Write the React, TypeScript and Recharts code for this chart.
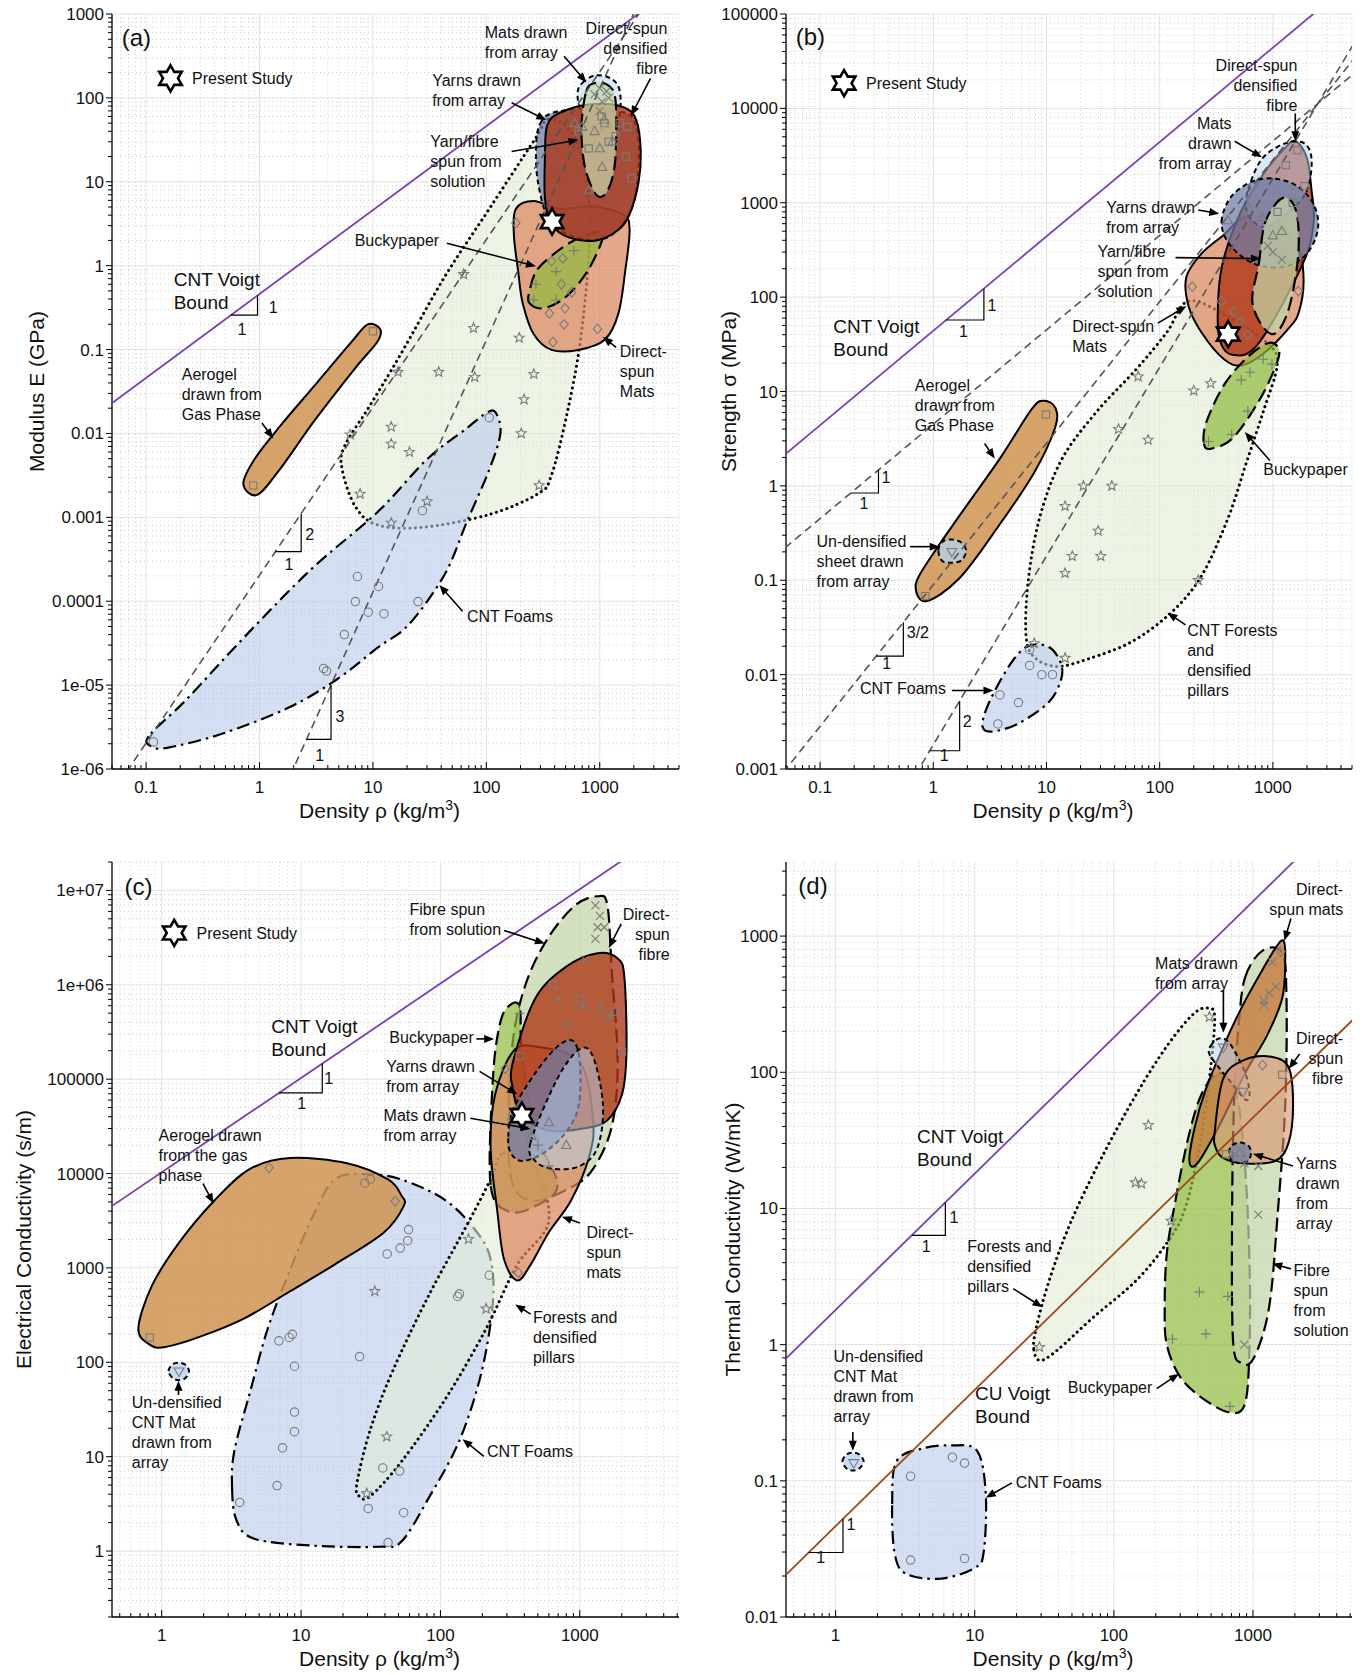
import React from "react";
import { ScatterChart, Scatter, XAxis, YAxis, CartesianGrid } from "recharts";

const FONT = "'Liberation Sans', Arial, Helvetica, sans-serif";
type T = [number, number];

// ---------- axis ticks ----------
const xMajorAB = [0.1, 1, 10, 100, 1000];
const xLabelsAB = ["0.1", "1", "10", "100", "1000"];
const xMajorCD = [1, 10, 100, 1000];
const xLabelsCD = ["1", "10", "100", "1000"];
const yMajorA = [1e-6, 1e-5, 1e-4, 1e-3, 0.01, 0.1, 1, 10, 100, 1000];
const yLabelsA = ["1e-06", "1e-05", "0.0001", "0.001", "0.01", "0.1", "1", "10", "100", "1000"];
const yMajorB = [0.001, 0.01, 0.1, 1, 10, 100, 1000, 1e4, 1e5];
const yLabelsB = ["0.001", "0.01", "0.1", "1", "10", "100", "1000", "10000", "100000"];
const yMajorC = [1, 10, 100, 1000, 1e4, 1e5, 1e6, 1e7];
const yLabelsC = ["1", "10", "100", "1000", "10000", "100000", "1e+06", "1e+07"];
const yMajorD = [0.01, 0.1, 1, 10, 100, 1000];
const yLabelsD = ["0.01", "0.1", "1", "10", "100", "1000"];

// ---------- panel (a): modulus ----------
const aForest: T[] = [[360, 56], [592, 35], [776, 9.7], [812, 1.75], [678, 0.132], [517, 0.0177], [376, 3.2e-3], [287, 1.92e-3], [106, 1.08e-3], [27.3, 7.6e-4], [11, 8.1e-4], [7, 1.34e-3], [5.36, 3.7e-3], [5.6, 7e-3], [9.2, 0.0205], [17.4, 0.086], [43, 0.74], [106, 4.75], [262, 30.7]];
const aFoam: T[] = [[0.105, 2.45e-6], [0.114, 1.84e-6], [0.157, 1.8e-6], [0.466, 2.63e-6], [1.81, 5.4e-6], [4.9, 1.19e-5], [11, 2.8e-5], [20.8, 5.3e-5], [43, 2.1e-4], [67, 8.7e-4], [106, 3.7e-3], [133, 0.01], [121, 0.0177], [101, 0.0177], [67, 0.0115], [29.9, 4.9e-3], [11, 1.16e-3], [2.85, 2.4e-4], [0.73, 3.7e-5], [0.226, 6.7e-6]];
const aAerogel: T[] = [[0.72, 2.5e-3], [0.95, 1.85e-3], [1.48, 3.6e-3], [3.06, 0.0143], [6.9, 0.059], [10.9, 0.123], [11.6, 0.175], [9.0, 0.2], [6.5, 0.124], [3.15, 0.039], [1.53, 0.0124], [0.9, 4.9e-3]];
const aDsMats: T[] = [[182, 4.75], [262, 5.9], [451, 4.75], [849, 5.1], [1600, 4.1], [1833, 2.68], [1675, 0.85], [1462, 0.27], [1114, 0.132], [648, 0.099], [376, 0.099], [262, 0.152], [209, 0.36], [191, 0.85], [175, 2.32]];
const aBucky: T[] = [[239, 0.36], [314, 0.31], [494, 0.416], [776, 0.85], [1066, 2.16], [931, 2.5], [592, 2.0], [376, 1.31], [274, 0.85], [239, 0.48]];
const aYarns: T[] = [[300, 50], [380, 66], [700, 74], [1300, 70], [1900, 60], [2200, 30], [2100, 8], [1700, 3.5], [1100, 2.1], [600, 2.2], [360, 3.5], [285, 10], [275, 28]];
const aMats: T[] = [[700, 150], [900, 185], [1200, 175], [1450, 140], [1530, 90], [1450, 55], [1100, 42], [800, 50], [660, 80], [640, 120]];
const aDsFibre: T[] = [[344, 47], [451, 67], [849, 84], [1600, 78], [2100, 54.5], [2300, 23], [2196, 9.7], [1833, 4.1], [1462, 2.68], [931, 2.0], [540, 2.16], [376, 3.1], [329, 6.3], [329, 20]];
const aSpun: T[] = [[760, 120], [900, 150], [1150, 145], [1350, 110], [1400, 50], [1350, 15], [1150, 7.5], [930, 7], [740, 15], [690, 45]];

const aStars: T[] = [[63, 0.79], [16.6, 0.054], [38, 0.054], [77, 0.18], [79, 0.047], [195, 0.138], [262, 0.051], [215, 0.0254], [14.5, 0.012], [14.5, 0.0075], [21, 0.006], [203, 0.01], [6.3, 0.0097], [7.7, 0.0019], [30, 0.00155], [14.5, 8.6e-4], [292, 0.0024]];
const aCircles: T[] = [[0.116, 2.1e-6], [7.3, 1.97e-4], [7, 9.9e-5], [9.1, 7.4e-5], [11.2, 1.5e-4], [12.5, 7.1e-5], [5.6, 4e-5], [3.67, 1.58e-5], [3.9, 1.47e-5], [25, 9.9e-5], [27.3, 1.2e-3], [106, 0.0154]];
const aSquares: T[] = [[0.88, 2.4e-3], [10, 0.165], [1040, 60], [1100, 50], [1380, 35], [1700, 20], [1900, 11], [800, 25], [1200, 30], [650, 40], [1500, 50], [1750, 45]];
const aDiamonds: T[] = [[182, 3.23], [376, 1.13], [472, 1.22], [459, 0.6], [565, 0.48], [360, 0.27], [494, 0.31], [485, 0.2], [387, 0.123], [955, 0.176]];
const aPlus: T[] = [[274, 0.6], [412, 0.85], [592, 1.51], [262, 0.39], [412, 0.39]];
const aTriUp: T[] = [[600, 50], [700, 45], [900, 40], [1100, 55], [1000, 25], [800, 8], [1050, 15], [1300, 30]];
const aCross: T[] = [[1000, 130], [1150, 120], [1050, 90], [900, 110], [1200, 100], [1000, 70]];
const aStudy: T[] = [[380, 3.35]];
const aLegendStar: T[] = [[0.164, 171]];

const aVoigt: T[] = [[0.04, 0.0184], [3000, 1380]];
const aSlope2: T[] = [[0.05, 5.12e-7], [3000, 1843]];
const aSlope3: T[] = [[1.5, 4.35e-7], [3000, 3478]];
const aTriangles: T[][] = [
  [[0.558, 0.257], [0.96, 0.257], [0.96, 0.442]],
  [[1.38, 3.9e-4], [2.33, 3.9e-4], [2.33, 1.11e-3]],
  [[2.6, 2.26e-6], [4.27, 2.26e-6], [4.27, 1.0e-5]],
];
const aArrows: T[][] = [
  [[485, 313], [762, 153]],
  [[2805, 171], [1884, 61.1]],
  [[167, 87.3], [338, 54.5]],
  [[167, 23], [648, 31.6]],
  [[44.9, 1.85], [274, 0.984]],
  [[1.05, 0.0133], [1.32, 8.7e-3]],
  [[61.7, 7.6e-5], [38.5, 1.56e-4]],
  [[1396, 0.106], [1066, 0.142]],
];
const aLabels = [
  { x: 0.061, y: 525, t: ["(a)"], k: "panel" },
  { x: 0.254, y: 171, t: ["Present Study"] },
  { x: 96.8, y: 605, t: ["Mats drawn", "from array"] },
  { x: 3950, y: 670, t: ["Direct-spun", "densified", "fibre"], a: "end" },
  { x: 33.3, y: 164, t: ["Yarns drawn", "from array"] },
  { x: 32.1, y: 30.7, t: ["Yarn/fibre", "spun from", "solution"] },
  { x: 6.9, y: 2.01, t: ["Buckypaper"] },
  { x: 0.175, y: 0.687, t: ["CNT Voigt", "Bound"], k: "big" },
  { x: 0.206, y: 0.0506, t: ["Aerogel", "drawn from", "Gas Phase"] },
  { x: 67.5, y: 6.6e-5, t: ["CNT Foams"] },
  { x: 1503, y: 0.095, t: ["Direct-", "spun", "Mats"] },
  { x: 1.32, y: 0.321, t: ["1"], a: "middle" },
  { x: 0.7, y: 0.176, t: ["1"], a: "middle" },
  { x: 2.77, y: 6.37e-4, t: ["2"], a: "middle" },
  { x: 1.82, y: 2.77e-4, t: ["1"], a: "middle" },
  { x: 5.12, y: 4.2e-6, t: ["3"], a: "middle" },
  { x: 3.4, y: 1.44e-6, t: ["1"], a: "middle" },
];

// ---------- panel (b): strength ----------
const bForest: T[] = [[180, 91], [403, 62], [898, 32.5], [1094, 19.4], [822, 6.1], [575, 1.67], [403, 0.46], [235, 0.112], [126, 0.0453], [56.5, 0.0223], [23.1, 0.0146], [12.4, 0.0122], [7.9, 0.0151], [6.6, 0.0254], [6.9, 0.098], [8.7, 0.46], [13.6, 1.9], [27.7, 6.1], [61.8, 17.1], [115, 42]];
const bFoam: T[] = [[2.72, 2.83e-3], [3.25, 2.49e-3], [5.55, 3.0e-3], [10.4, 5.06e-3], [13.3, 8.5e-3], [13.6, 0.0125], [11.3, 0.0184], [8.7, 0.0209], [6.6, 0.0196], [5.07, 0.0142], [3.88, 8.5e-3], [2.97, 4.45e-3]];
const bAerogel: T[] = [[0.7, 0.09], [0.86, 0.06], [1.7, 0.105], [3.8, 0.38], [7.75, 1.37], [11.9, 4.1], [12.0, 6.7], [9.5, 8.0], [7.4, 6.5], [3.97, 2.03], [1.78, 0.52], [0.95, 0.175]];
const bUndens: T[] = [[1.11, 0.205], [1.2, 0.255], [1.46, 0.27], [1.78, 0.25], [1.95, 0.205], [1.78, 0.163], [1.46, 0.153], [1.2, 0.16]];
const bDsMats: T[] = [[172, 163], [235, 291], [368, 456], [575, 716], [1100, 600], [1679, 331], [1868, 150], [1700, 70], [1403, 47.9], [822, 25.1], [526, 18.9], [368, 22.1], [235, 42], [180, 80]];
const bDsFibre: T[] = [[1603, 4480], [2005, 2960], [2193, 1365], [2293, 631], [1837, 225], [751, 32.5], [440, 24.5], [336, 37], [330, 104], [368, 256], [526, 817], [822, 2010], [1284, 3830]];
const bMats: T[] = [[575, 927], [751, 2600], [1175, 4080], [1837, 4350], [2193, 2960], [2005, 1365], [1403, 817], [822, 555]];
const bYarns: T[] = [[352, 631], [440, 1202], [751, 1766], [1403, 1656], [2193, 1057], [2512, 555], [2005, 291], [1284, 211], [687, 225], [421, 353]];
const bSpun: T[] = [[751, 225], [859, 631], [1227, 1127], [1603, 817], [1679, 291], [1403, 80], [1074, 42], [822, 47.9], [658, 91]];
const bBucky: T[] = [[246, 2.81], [282, 2.47], [440, 3.19], [751, 7.9], [1074, 19.4], [1122, 28.6], [898, 32.5], [575, 22.1], [368, 11.6], [258, 4.7]];

const bStars: T[] = [[64.6, 14.4], [200, 10.2], [282, 12.2], [43.3, 4.0], [79, 3.07], [21.2, 1.0], [37.8, 1.0], [14.6, 0.61], [28.6, 0.334], [16.9, 0.18], [30.2, 0.18], [14.6, 0.119], [219, 0.1], [14.6, 0.015], [7.8, 0.0214]];
const bCircles: T[] = [[3.88, 6.1e-3], [3.72, 3.0e-3], [5.65, 5.06e-3], [7.1, 0.0125], [7.1, 0.0185], [9.1, 0.01], [11.3, 0.01]];
const bSquares: T[] = [[0.85, 0.068], [9.9, 5.7], [1650, 3600], [1900, 1500], [1300, 2500], [1500, 1000], [1100, 800], [1800, 700]];
const bTriDown: T[] = [[1.46, 0.2]];
const bPlus: T[] = [[270, 2.95], [433, 3.5], [601, 6.2], [526, 13.2], [628, 16], [822, 22], [982, 19.5]];
const bDiamonds: T[] = [[194, 129], [1679, 116], [450, 70], [520, 55], [350, 90], [600, 40]];
const bTriUp: T[] = [[400, 650], [600, 900], [800, 700], [1000, 450], [1200, 500], [700, 400]];
const bCross: T[] = [[1000, 300], [1200, 250], [900, 350]];
const bStudy: T[] = [[403, 40.5]];
const bLegendStar: T[] = [[0.163, 18500]];

const bVoigt: T[] = [[0.04, 1.76], [3000, 132000]];
const bSlope1: T[] = [[0.04, 0.18], [6000, 27000]];
const bSlope15: T[] = [[0.04, 7.16e-4], [6000, 41570]];
const bSlope2: T[] = [[0.6, 6.49e-4], [6000, 64860]];
const bTriangles: T[][] = [
  [[1.3, 57.2], [2.8, 57.2], [2.8, 123]],
  [[0.187, 0.84], [0.328, 0.84], [0.328, 1.48]],
  [[0.313, 0.0157], [0.544, 0.0157], [0.544, 0.0359]],
  [[0.93, 1.56e-3], [1.71, 1.56e-3], [1.71, 5.27e-3]],
];
const bArrows: T[][] = [
  [[1578, 8850], [1578, 4480]],
  [[460, 4480], [800, 3040]],
  [[219, 838], [336, 766]],
  [[138, 262], [785, 256]],
  [[96.4, 53], [172, 80.2]],
  [[2.84, 2.81], [3.49, 1.95]],
  [[0.624, 0.227], [1.14, 0.227]],
  [[940, 1.86], [565, 3.72]],
  [[169, 0.0337], [117, 0.0453]],
  [[1.46, 6.8e-3], [3.4, 6.8e-3]],
];
const bLabels = [
  { x: 0.061, y: 57400, t: ["(b)"], k: "panel" },
  { x: 0.255, y: 18500, t: ["Present Study"] },
  { x: 1648, y: 28600, t: ["Direct-spun", "densified", "fibre"], a: "end" },
  { x: 432, y: 7030, t: ["Mats", "drawn", "from array"], a: "end" },
  { x: 33.7, y: 893, t: ["Yarns drawn", "from array"] },
  { x: 28.2, y: 306, t: ["Yarn/fibre", "spun from", "solution"] },
  { x: 16.9, y: 49.7, t: ["Direct-spun", "Mats"] },
  { x: 0.131, y: 49.7, t: ["CNT Voigt", "Bound"], k: "big" },
  { x: 0.687, y: 11.6, t: ["Aerogel", "drawn from", "Gas Phase"] },
  { x: 0.093, y: 0.262, t: ["Un-densified", "sheet drawn", "from array"] },
  { x: 822, y: 1.51, t: ["Buckypaper"] },
  { x: 175, y: 0.0292, t: ["CNT Forests", "and", "densified", "pillars"] },
  { x: 0.225, y: 7.26e-3, t: ["CNT Foams"] },
  { x: 3.3, y: 83, t: ["1"], a: "middle" },
  { x: 1.85, y: 43, t: ["1"], a: "middle" },
  { x: 0.381, y: 1.24, t: ["1"], a: "middle" },
  { x: 0.244, y: 0.653, t: ["1"], a: "middle" },
  { x: 0.731, y: 0.0281, t: ["3/2"], a: "middle" },
  { x: 0.388, y: 0.0133, t: ["1"], a: "middle" },
  { x: 1.99, y: 3.18e-3, t: ["2"], a: "middle" },
  { x: 1.25, y: 1.4e-3, t: ["1"], a: "middle" },
];

// ---------- panel (c): electrical conductivity ----------
const cFoam: T[] = [[3.2, 4.63], [3.44, 2.12], [4.62, 1.35], [12.1, 1.14], [36.4, 1.11], [52.5, 1.26], [81.7, 3.57], [137, 14.9], [198, 80.7], [238, 437], [229, 1233], [184, 2360], [110, 5150], [52.5, 8650], [29.2, 9860], [17.4, 8650], [12.1, 3490], [8.34, 953], [5.77, 228], [4.3, 48], [3.32, 11.5]];
const cForest: T[] = [[286, 16600], [479, 11200], [597, 3060], [356, 1084], [213, 228], [110, 42.2], [52.5, 8.87], [31.4, 3.82], [26.1, 3.82], [25.2, 5.28], [31.4, 19.3], [45.4, 80.7], [81.7, 498], [159, 3060], [229, 8650]];
const cAerogel: T[] = [[0.68, 228], [0.82, 154], [1.06, 145], [1.91, 188], [3.99, 296], [8.34, 566], [17.4, 1084], [39.1, 2360], [54.5, 4520], [52.5, 5860], [42.1, 8650], [21.7, 12800], [8.34, 14600], [4.3, 11200], [2.38, 5150], [1.32, 1820], [0.85, 644]];
const cUndens: T[] = [[1.12, 80.7], [1.2, 95], [1.33, 99], [1.48, 94], [1.57, 80.7], [1.48, 68], [1.33, 64.7], [1.2, 68]];
const cSpun: T[] = [[1342, 8.67e6], [1578, 6.95e6], [1698, 1.37e6], [1870, 151000], [1698, 31700], [1246, 11200], [863, 7130], [479, 5150], [331, 7600], [307, 31700], [331, 254000], [413, 1.06e6], [597, 3.19e6], [928, 6.95e6]];
const cBucky: T[] = [[229, 7600], [238, 102000], [266, 374000], [307, 589000], [370, 589000], [384, 195000], [479, 27800], [692, 7600], [479, 4520], [307, 3970]];
const cDsMats: T[] = [[356, 735], [286, 1233], [256, 3970], [229, 18900], [247, 69200], [331, 195000], [479, 222000], [1000, 151000], [1246, 36100], [1160, 14600], [863, 5150], [597, 2360], [444, 1084]];
const cDsFibre: T[] = [[331, 151000], [479, 716000], [801, 1.56e6], [1342, 2.16e6], [1870, 1.9e6], [2090, 1.2e6], [2163, 195000], [2010, 69200], [1556, 36100], [1000, 29700], [597, 28600], [384, 41100], [331, 78700]];
const cYarns: T[] = [[307, 24500], [331, 46900], [479, 116000], [692, 222000], [896, 254000], [1000, 151000], [984, 53300], [801, 27800], [554, 16600], [384, 13600], [319, 16600]];
const cMats: T[] = [[444, 21500], [692, 102000], [1000, 208000], [1246, 172000], [1466, 53300], [1342, 18900], [1000, 12000], [642, 11200], [479, 13600]];

const cCircles: T[] = [[3.63, 3.27], [6.73, 4.94], [7.36, 12.4], [8.97, 18.4], [8.97, 29.7], [8.97, 90.8], [6.93, 169], [8.22, 183], [8.65, 198], [26.3, 115], [41.5, 1406], [51.4, 1622], [58.2, 1945], [59.1, 2550], [224, 836], [137, 531], [133, 498], [38.6, 7.59], [51, 7.03], [30.3, 2.83], [54.5, 2.55], [42.1, 1.23], [28.7, 7900], [31.4, 8650]];
const cStars: T[] = [[159, 2020], [213, 369], [33.8, 566], [41.2, 16.3], [29.6, 4.07]];
const cSquares: T[] = [[0.82, 183], [642, 1e6], [370, 176000], [1803, 517000], [2010, 195000], [331, 41100], [1000, 700000]];
const cDiamonds: T[] = [[5.9, 11500], [47.4, 5080], [362, 890], [292, 129000], [801, 374000], [1578, 455000]];
const cTriDown: T[] = [[1.33, 80]];
const cCross: T[] = [[1294, 6.95e6], [1393, 5.37e6], [1342, 4.07e6], [1499, 4.07e6], [1294, 3.07e6], [1092, 1.84e6], [1412, 582000], [702, 719000], [1047, 582000]];
const cPlus: T[] = [[370, 500000], [500, 20000], [600, 12000]];
const cTriUp: T[] = [[450, 25000], [600, 35000], [800, 20000]];
const cStudy: T[] = [[384, 41100]];
const cLegendStar: T[] = [[1.23, 3.54e6]];

const cVoigt: T[] = [[0.4, 4120], [3000, 3.09e7]];
const cTriangles: T[][] = [[[6.93, 71400], [14.2, 71400], [14.2, 146000]]];
const cArrows: T[][] = [
  [[286, 3.77e6], [562, 2.73e6]],
  [[1982, 4.42e6], [1614, 2.46e6]],
  [[181, 267000], [243, 267000]],
  [[191, 121000], [356, 69200]],
  [[164, 38500], [444, 29700]],
  [[1.98, 7800], [2.35, 4830]],
  [[1000, 2990], [744, 3490]],
  [[444, 324], [344, 409]],
  [[1.32, 45], [1.32, 63.8]],
  [[205, 10.1], [144, 15.3]],
];
const cLabels = [
  { x: 0.54, y: 1.1e7, t: ["(c)"], k: "panel" },
  { x: 1.78, y: 3.54e6, t: ["Present Study"] },
  { x: 60, y: 6.35e6, t: ["Fibre spun", "from solution"] },
  { x: 4420, y: 5.65e6, t: ["Direct-", "spun", "fibre"], a: "end" },
  { x: 6.12, y: 365000, t: ["CNT Voigt", "Bound"], k: "big" },
  { x: 43, y: 277000, t: ["Buckypaper"] },
  { x: 40.9, y: 138000, t: ["Yarns drawn", "from array"] },
  { x: 39.1, y: 41700, t: ["Mats drawn", "from array"] },
  { x: 0.95, y: 25500, t: ["Aerogel drawn", "from the gas", "phase"] },
  { x: 1116, y: 2360, t: ["Direct-", "spun", "mats"] },
  { x: 461, y: 300, t: ["Forests and", "densified", "pillars"] },
  { x: 0.61, y: 38, t: ["Un-densified", "CNT Mat", "drawn from", "array"] },
  { x: 216, y: 11.5, t: ["CNT Foams"] },
  { x: 15.8, y: 102000, t: ["1"], a: "middle" },
  { x: 10.1, y: 55500, t: ["1"], a: "middle" },
];

// ---------- panel (d): thermal conductivity ----------
const dFoam: T[] = [[2.55, 0.0675], [2.74, 0.139], [4.23, 0.173], [6.76, 0.182], [10.4, 0.166], [12, 0.0807], [11.6, 0.03], [10, 0.0229], [5.64, 0.0191], [3.17, 0.0209], [2.65, 0.03]];
const dForest: T[] = [[26.6, 0.916], [29.6, 0.765], [39.5, 0.916], [70.4, 1.57], [145, 2.96], [240, 5.55], [320, 9.52], [397, 23.4], [476, 75.5], [531, 243], [476, 296], [370, 266], [240, 155], [145, 69], [81.3, 23.4], [49.1, 7.96], [34.3, 2.96], [27.6, 1.31]];
const dUndens: T[] = [[1.12, 0.139], [1.2, 0.156], [1.33, 0.161], [1.48, 0.156], [1.59, 0.139], [1.48, 0.123], [1.33, 0.119], [1.2, 0.123]];
const dBucky: T[] = [[232, 1.88], [240, 1.0], [298, 0.585], [427, 0.408], [683, 0.317], [879, 0.373], [945, 1.0], [945, 3.87], [879, 19.6], [760, 69], [570, 98.9], [427, 69], [344, 33.6], [277, 11.4], [240, 4.63]];
const dSpun: T[] = [[879, 500], [1172, 783], [1622, 750], [1742, 349], [1706, 57.7], [1510, 9.53], [1306, 1.88], [1016, 0.802], [818, 0.733], [718, 1.1], [708, 9.53], [734, 69], [789, 222]];
const dDsMats: T[] = [[349, 22.4], [398, 21.4], [570, 40.2], [879, 98.9], [1262, 186], [1622, 349], [1706, 655], [1659, 923], [1455, 820], [1092, 500], [818, 291], [613, 155], [459, 75.5], [383, 40.2]];
const dMats: T[] = [[494, 155], [570, 177], [683, 162], [879, 98.9], [945, 69], [879, 63], [708, 82.6], [570, 108], [486, 136]];
const dDsFibre: T[] = [[531, 36.7], [613, 90.4], [879, 124], [1355, 130], [1808, 108], [1942, 57.7], [1808, 30.7], [1455, 22.4], [879, 21.4], [613, 23.4], [538, 28.1]];
const dYarns: T[] = [[673, 25.6], [700, 28.8], [806, 30.5], [930, 28.8], [966, 25.6], [930, 22.6], [806, 21.5], [700, 22.6]];

const dCircles: T[] = [[3.46, 0.108], [6.91, 0.149], [8.45, 0.135], [3.46, 0.0262], [8.45, 0.0269]];
const dStars: T[] = [[29.2, 0.96], [486, 255], [177, 40.9], [143, 15.5], [158, 15.2], [258, 8.1]];
const dTriDown: T[] = [[1.35, 0.135], [613, 152], [848, 72]];
const dCross: T[] = [[1375, 643], [1455, 426], [1306, 382], [1200, 334], [1200, 313], [1092, 20.5], [867, 21.4], [1092, 9.0], [867, 1.0]];
const dPlus: T[] = [[412, 2.43], [659, 2.26], [264, 1.1], [459, 1.2], [683, 0.352]];
const dDiamonds: T[] = [[1585, 771], [1172, 113]];
const dSquares: T[] = [[1622, 96], [640, 25]];
const dTriUp: T[] = [[806, 25.6]];

const dVoigt: T[] = [[0.4, 0.72], [3000, 5400]];
const dCopper: T[] = [[0.4, 0.0186], [6000, 279]];
const dTriangles: T[][] = [
  [[3.53, 6.354], [6.15, 6.354], [6.15, 11.07]],
  [[0.64, 0.02976], [1.13, 0.02976], [1.13, 0.0525]],
];
const dArrows: T[][] = [
  [[1874, 1345], [1682, 923]],
  [[613, 399], [613, 195]],
  [[2165, 136], [1808, 106]],
  [[1942, 20.5], [1000, 25.2]],
  [[18.9, 2.58], [30.7, 1.88]],
  [[1874, 3.6], [1375, 3.94]],
  [[1.33, 0.228], [1.33, 0.166]],
  [[203, 0.475], [294, 0.612]],
  [[18.5, 0.0966], [12, 0.0751]],
];
const dLabels = [
  { x: 0.54, y: 2350, t: ["(d)"], k: "panel" },
  { x: 4450, y: 2210, t: ["Direct-", "spun mats"], a: "end" },
  { x: 198, y: 632, t: ["Mats drawn", "from array"] },
  { x: 4450, y: 177, t: ["Direct-", "spun", "fibre"], a: "end" },
  { x: 3.85, y: 34.2, t: ["CNT Voigt", "Bound"], k: "big" },
  { x: 2042, y: 21.4, t: ["Yarns", "drawn", "from", "array"] },
  { x: 8.83, y: 5.31, t: ["Forests and", "densified", "pillars"] },
  { x: 1958, y: 3.54, t: ["Fibre", "spun", "from", "solution"] },
  { x: 0.965, y: 0.824, t: ["Un-densified", "CNT Mat", "drawn from", "array"] },
  { x: 46.7, y: 0.489, t: ["Buckypaper"] },
  { x: 10.05, y: 0.443, t: ["CU Voigt", "Bound"], k: "big" },
  { x: 19.7, y: 0.0984, t: ["CNT Foams"] },
  { x: 7.1, y: 8.55, t: ["1"], a: "middle" },
  { x: 4.48, y: 5.31, t: ["1"], a: "middle" },
  { x: 1.29, y: 0.0478, t: ["1"], a: "middle" },
  { x: 0.78, y: 0.0274, t: ["1"], a: "middle" },
];

// ---------- styles ----------
const REGION: Record<string, any> = {
  forest: { fill: "#e3ecd3", op: 0.6, w: 3, dash: "0.1 5.4", cap: "round" },
  foam: { fill: "#b9c9ec", op: 0.6, w: 2.2, dash: "13 5 2.5 5" },
  aerogel: { fill: "#cf9450", op: 0.85, w: 2 },
  dsMats: { fill: "#dd875d", op: 0.72, w: 2 },
  dsMatsD: { fill: "#c47a3e", op: 0.8, w: 2 },
  bucky: { fill: "#8fbb3c", op: 0.7, w: 2.2, dash: "14 6" },
  yarns: { fill: "#6f7ba8", op: 0.72, w: 2, dash: "5 3.5" },
  mats: { fill: "#b5d2f0", op: 0.5, w: 2, dash: "5 3.5" },
  dsFibre: { fill: "#ad3514", op: 0.78, w: 2 },
  dsFibreD: { fill: "#d98f6c", op: 0.6, w: 2 },
  spun: { fill: "#c3d6a8", op: 0.72, w: 2.2, dash: "14 6" },
  undens: { fill: "#b5d2f0", op: 0.75, w: 2, dash: "5 3.5" },
};
const LINE: Record<string, any> = {
  voigt: { stroke: "#7b3fb3", w: 1.8 },
  copper: { stroke: "#a0481c", w: 1.8 },
  guide: { stroke: "#555555", w: 1.6, dash: "8 5" },
  tri: { stroke: "#000000", w: 1.2 },
};
const TEXT: Record<string, any> = {
  note: { fs: 16, lh: 20 },
  big: { fs: 19, lh: 23 },
  panel: { fs: 24, lh: 28 },
};

// ---------- helpers ----------
const toData = (pts: T[]) => pts.map(([x, y]) => ({ x, y }));

function logTicks(lo: number, hi: number) {
  const out: number[] = [];
  for (let e = Math.floor(Math.log10(lo)); e <= Math.ceil(Math.log10(hi)); e++) {
    for (let m = 1; m <= 9; m++) {
      const v = m * Math.pow(10, e);
      if (v >= lo * 0.999 && v <= hi * 1.001) out.push(v);
    }
  }
  return out;
}
const sameVal = (a: number, b: number) => Math.abs(Math.log10(a) - Math.log10(b)) < 1e-6;
function findLabel(v: number, vals: number[], labs: string[]) {
  for (let i = 0; i < vals.length; i++) if (sameVal(v, vals[i])) return labs[i];
  return null;
}

function closedPath(pts: { x: number; y: number }[]) {
  const n = pts.length;
  let d = `M${pts[0].x},${pts[0].y}`;
  for (let i = 0; i < n; i++) {
    const p0 = pts[(i - 1 + n) % n], p1 = pts[i], p2 = pts[(i + 1) % n], p3 = pts[(i + 2) % n];
    const c1x = p1.x + (p2.x - p0.x) / 6, c1y = p1.y + (p2.y - p0.y) / 6;
    const c2x = p2.x - (p3.x - p1.x) / 6, c2y = p2.y - (p3.y - p1.y) / 6;
    d += ` C${c1x},${c1y} ${c2x},${c2y} ${p2.x},${p2.y}`;
  }
  return d + "Z";
}

function starPath(cx: number, cy: number, R: number, r: number, n: number) {
  let d = "";
  for (let i = 0; i < 2 * n; i++) {
    const ang = -Math.PI / 2 + (i * Math.PI) / n;
    const rad = i % 2 === 0 ? R : r;
    d += (i ? "L" : "M") + (cx + rad * Math.cos(ang)).toFixed(2) + "," + (cy + rad * Math.sin(ang)).toFixed(2);
  }
  return d + "Z";
}

const noShape = () => <g />;

function markerShape(kind: string) {
  return (p: any) => {
    const { cx, cy } = p;
    const s = { fill: "none", stroke: "#7a7a7a", strokeWidth: 1.1 };
    switch (kind) {
      case "circle":
        return <circle cx={cx} cy={cy} r={4.2} {...s} />;
      case "square":
        return <rect x={cx - 3.6} y={cy - 3.6} width={7.2} height={7.2} {...s} />;
      case "diamond":
        return <path d={`M${cx},${cy - 4.8}L${cx + 4.2},${cy}L${cx},${cy + 4.8}L${cx - 4.2},${cy}Z`} {...s} />;
      case "triUp":
        return <path d={`M${cx},${cy - 5}L${cx + 4.6},${cy + 3.4}L${cx - 4.6},${cy + 3.4}Z`} {...s} />;
      case "triDown":
        return <path d={`M${cx},${cy + 5}L${cx + 5},${cy - 3.4}L${cx - 5},${cy - 3.4}Z`} {...s} />;
      case "plus":
        return <path d={`M${cx - 5},${cy}H${cx + 5}M${cx},${cy - 5}V${cy + 5}`} {...s} />;
      case "cross":
        return <path d={`M${cx - 4},${cy - 4}L${cx + 4},${cy + 4}M${cx + 4},${cy - 4}L${cx - 4},${cy + 4}`} {...s} />;
      case "star":
        return <path d={starPath(cx, cy, 5.2, 2.3, 5)} {...s} />;
      case "study":
        return <path d={starPath(cx, cy, 13, 13 / Math.sqrt(3), 6)} fill="#ffffff" stroke="#000" strokeWidth={2.6} strokeLinejoin="miter" />;
      default:
        return <g />;
    }
  };
}

function labelShape(p: any) {
  const d = p.payload;
  const k = TEXT[d.k || "note"];
  return (
    <text fontFamily={FONT} fontSize={k.fs} fill="#111" textAnchor={d.a || "start"}>
      {d.t.map((line: string, i: number) => (
        <tspan key={i} x={p.cx} y={p.cy + i * k.lh + k.fs * 0.36}>
          {line}
        </tspan>
      ))}
    </text>
  );
}

function regionLine(style: any) {
  return (lp: any) => (
    <path
      d={closedPath(lp.points)}
      fill={style.fill}
      fillOpacity={style.op}
      stroke="#000"
      strokeWidth={style.w}
      strokeDasharray={style.dash}
      strokeLinecap={style.cap || "butt"}
      strokeLinejoin="round"
    />
  );
}

function openLine(style: any) {
  return (lp: any) => (
    <polyline
      points={lp.points.map((q: any) => `${q.x},${q.y}`).join(" ")}
      fill="none"
      stroke={style.stroke}
      strokeWidth={style.w}
      strokeDasharray={style.dash}
    />
  );
}

function arrowLine(lp: any) {
  const [a, b] = lp.points;
  const dx = b.x - a.x, dy = b.y - a.y;
  const L = Math.hypot(dx, dy) || 1;
  const ux = dx / L, uy = dy / L;
  const hl = 10, hw = 4;
  const bx = b.x - ux * hl, by = b.y - uy * hl;
  return (
    <g>
      <line x1={a.x} y1={a.y} x2={bx + ux * 2} y2={by + uy * 2} stroke="#000" strokeWidth={1.6} />
      <polygon points={`${b.x},${b.y} ${bx - uy * hw},${by + ux * hw} ${bx + uy * hw},${by - ux * hw}`} fill="#000" />
    </g>
  );
}

// ---------- panels ----------
const PANELS = [
  {
    id: "a", left: 0, top: 0, width: 690, height: 840,
    margin: { top: 14, right: 11, bottom: 21, left: 12 },
    xDomain: [0.05, 5000], yDomain: [1e-6, 1000],
    xMajor: xMajorAB, xLabels: xLabelsAB, yMajor: yMajorA, yLabels: yLabelsA,
    yTitle: "Modulus E (GPa)", yTitleGap: 76,
    regions: [["forest", aForest], ["foam", aFoam], ["aerogel", aAerogel], ["dsMats", aDsMats], ["bucky", aBucky], ["yarns", aYarns], ["mats", aMats], ["dsFibre", aDsFibre], ["spun", aSpun]],
    lines: [["voigt", aVoigt], ["guide", aSlope2], ["guide", aSlope3]],
    triangles: aTriangles, arrows: aArrows, labels: aLabels,
    markers: [["star", aStars], ["circle", aCircles], ["square", aSquares], ["diamond", aDiamonds], ["plus", aPlus], ["triUp", aTriUp], ["cross", aCross], ["study", aStudy], ["study", aLegendStar]],
  },
  {
    id: "b", left: 680, top: 0, width: 685, height: 840,
    margin: { top: 14, right: 13, bottom: 21, left: 6 },
    xDomain: [0.05, 5000], yDomain: [0.001, 1e5],
    xMajor: xMajorAB, xLabels: xLabelsAB, yMajor: yMajorB, yLabels: yLabelsB,
    yTitle: "Strength σ (MPa)", yTitleGap: 58,
    regions: [["forest", bForest], ["foam", bFoam], ["aerogel", bAerogel], ["undens", bUndens], ["dsMats", bDsMats], ["dsFibre", bDsFibre], ["mats", bMats], ["yarns", bYarns], ["spun", bSpun], ["bucky", bBucky]],
    lines: [["voigt", bVoigt], ["guide", bSlope1], ["guide", bSlope15], ["guide", bSlope2]],
    triangles: bTriangles, arrows: bArrows, labels: bLabels,
    markers: [["star", bStars], ["circle", bCircles], ["square", bSquares], ["triDown", bTriDown], ["plus", bPlus], ["diamond", bDiamonds], ["triUp", bTriUp], ["cross", bCross], ["study", bStudy], ["study", bLegendStar]],
  },
  {
    id: "c", left: 0, top: 840, width: 690, height: 835,
    margin: { top: 22, right: 11, bottom: 8, left: 12 },
    xDomain: [0.44, 5150], yDomain: [0.2, 2e7],
    xMajor: xMajorCD, xLabels: xLabelsCD, yMajor: yMajorC, yLabels: yLabelsC,
    yTitle: "Electrical Conductivity (s/m)", yTitleGap: 89,
    regions: [["foam", cFoam], ["forest", cForest], ["aerogel", cAerogel], ["undens", cUndens], ["spun", cSpun], ["bucky", cBucky], ["dsMats", cDsMats], ["dsFibre", cDsFibre], ["yarns", cYarns], ["mats", cMats]],
    lines: [["voigt", cVoigt]],
    triangles: cTriangles, arrows: cArrows, labels: cLabels,
    markers: [["circle", cCircles], ["star", cStars], ["square", cSquares], ["diamond", cDiamonds], ["triDown", cTriDown], ["cross", cCross], ["plus", cPlus], ["triUp", cTriUp], ["study", cStudy], ["study", cLegendStar]],
  },
  {
    id: "d", left: 680, top: 840, width: 685, height: 835,
    margin: { top: 22, right: 13, bottom: 8, left: 6 },
    xDomain: [0.44, 5150], yDomain: [0.01, 3500],
    xMajor: xMajorCD, xLabels: xLabelsCD, yMajor: yMajorD, yLabels: yLabelsD,
    yTitle: "Thermal Conductivity (W/mK)", yTitleGap: 54,
    regions: [["foam", dFoam], ["forest", dForest], ["undens", dUndens], ["bucky", dBucky], ["spun", dSpun], ["dsMatsD", dDsMats], ["mats", dMats], ["dsFibreD", dDsFibre], ["yarns", dYarns]],
    lines: [["voigt", dVoigt], ["copper", dCopper]],
    triangles: dTriangles, arrows: dArrows, labels: dLabels,
    markers: [["circle", dCircles], ["star", dStars], ["triDown", dTriDown], ["cross", dCross], ["plus", dPlus], ["diamond", dDiamonds], ["square", dSquares], ["triUp", dTriUp]],
  },
];

const AXIS = { stroke: "#000", strokeWidth: 1.3 };

function Panel({ c }: { c: any }) {
  const xTicks = logTicks(c.xDomain[0], c.xDomain[1]);
  const yTicks = logTicks(c.yDomain[0], c.yDomain[1]);
  const xMinor = xTicks.filter((v) => !c.xMajor.some((m: number) => sameVal(m, v)));
  const yMinor = yTicks.filter((v) => !c.yMajor.some((m: number) => sameVal(m, v)));

  const bottomTick = (p: any) => {
    const lab = findLabel(p.payload.value, c.xMajor, c.xLabels);
    const len = lab ? 7 : 4;
    return (
      <g>
        <line x1={p.x} x2={p.x} y1={p.y} y2={p.y - len} stroke="#000" strokeWidth={1} />
        {lab ? (
          <text x={p.x} y={p.y + 24} textAnchor="middle" fontSize={17} fontFamily={FONT} fill="#111">
            {lab}
          </text>
        ) : null}
      </g>
    );
  };
  const topTick = (p: any) => {
    const len = findLabel(p.payload.value, c.xMajor, c.xLabels) ? 7 : 4;
    return <line x1={p.x} x2={p.x} y1={p.y} y2={p.y + len} stroke="#000" strokeWidth={1} />;
  };
  const leftTick = (p: any) => {
    const lab = findLabel(p.payload.value, c.yMajor, c.yLabels);
    const len = lab ? 6 : 4;
    return (
      <g>
        <line x1={p.x} x2={p.x - len} y1={p.y} y2={p.y} stroke="#000" strokeWidth={1} />
        {lab ? (
          <text x={p.x - 8} y={p.y + 6} textAnchor="end" fontSize={17} fontFamily={FONT} fill="#111">
            {lab}
          </text>
        ) : null}
      </g>
    );
  };
  const rightTick = (p: any) => {
    const len = findLabel(p.payload.value, c.yMajor, c.yLabels) ? 7 : 4;
    return <line x1={p.x} x2={p.x - len} y1={p.y} y2={p.y} stroke="#000" strokeWidth={1} />;
  };

  const xTitle = (p: any) => {
    const vb = p.viewBox || {};
    return (
      <text x={vb.x + vb.width / 2 - 16} y={vb.y + 49} textAnchor="middle" fontSize={21} fontFamily={FONT} fill="#111">
        <tspan>Density ρ (kg/m</tspan>
        <tspan dy={-8} fontSize={14}>3</tspan>
        <tspan dy={8}>)</tspan>
      </text>
    );
  };
  const yTitle = (p: any) => {
    const vb = p.viewBox || {};
    const cx = vb.x + vb.width - c.yTitleGap;
    const cy = vb.y + vb.height / 2;
    return (
      <text x={cx} y={cy} transform={`rotate(-90, ${cx}, ${cy})`} textAnchor="middle" dominantBaseline="central" fontSize={21} fontFamily={FONT} fill="#111">
        {c.yTitle}
      </text>
    );
  };

  const common = { type: "number" as const, scale: "log" as const, allowDataOverflow: true, interval: 0, tickSize: 0, tickMargin: 0, tickLine: false, axisLine: AXIS };

  return (
    <div style={{ position: "absolute", left: c.left, top: c.top }}>
      <ScatterChart width={c.width} height={c.height} margin={c.margin}>
        <CartesianGrid horizontalValues={yMinor} verticalValues={xMinor} stroke="#cfcfcf" strokeDasharray="1 3" />
        <CartesianGrid horizontalValues={c.yMajor} verticalValues={c.xMajor} stroke="#e2e2e2" />
        <XAxis dataKey="x" {...common} domain={c.xDomain} ticks={xTicks} tick={bottomTick} height={50} label={{ content: xTitle }} />
        <XAxis xAxisId="top" orientation="top" dataKey="x" {...common} domain={c.xDomain} ticks={xTicks} tick={topTick} height={0} />
        <YAxis dataKey="y" {...common} domain={c.yDomain} ticks={yTicks} tick={leftTick} width={100} label={{ content: yTitle }} />
        <YAxis yAxisId="right" orientation="right" dataKey="y" {...common} domain={c.yDomain} ticks={yTicks} tick={rightTick} width={0} />
        {c.regions.map(([kind, pts]: any, i: number) => (
          <Scatter key={`r${i}`} data={toData(pts)} shape={noShape} line={regionLine(REGION[kind])} isAnimationActive={false} />
        ))}
        {c.lines.map(([kind, pts]: any, i: number) => (
          <Scatter key={`l${i}`} data={toData(pts)} shape={noShape} line={openLine(LINE[kind])} isAnimationActive={false} />
        ))}
        {c.triangles.map((pts: T[], i: number) => (
          <Scatter key={`t${i}`} data={toData(pts)} shape={noShape} line={openLine(LINE.tri)} isAnimationActive={false} />
        ))}
        {c.markers.map(([kind, pts]: any, i: number) => (
          <Scatter key={`m${i}`} data={toData(pts)} shape={markerShape(kind)} isAnimationActive={false} />
        ))}
        {c.arrows.map((pts: T[], i: number) => (
          <Scatter key={`a${i}`} data={toData(pts)} shape={noShape} line={arrowLine} isAnimationActive={false} />
        ))}
        <Scatter key="labels" data={c.labels} shape={labelShape} isAnimationActive={false} />
      </ScatterChart>
    </div>
  );
}

export default function App() {
  return (
    <div style={{ position: "absolute", left: 0, top: 0, width: 1365, height: 1675, background: "#fff", fontFamily: FONT }}>
      {PANELS.map((c) => (
        <Panel key={c.id} c={c} />
      ))}
    </div>
  );
}
